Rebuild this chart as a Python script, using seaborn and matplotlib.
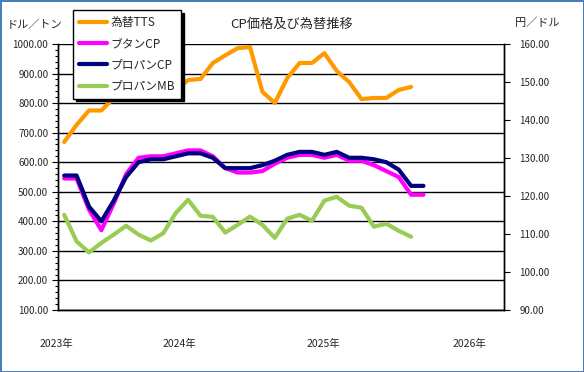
import numpy as np
import pandas as pd
import matplotlib.pyplot as plt
import matplotlib.ticker as mticker
import seaborn as sns

# ---------------------------------------------------------
# Data (monthly, Apr 2023 onwards)
# ---------------------------------------------------------
months = pd.date_range("2023-04-01", periods=36, freq="MS")  # category axis, FY2023-FY2025

tts = [134.2, 138.7, 142.5, 142.5, 145.8, 148.4, 150.3, 150.6, 145.5, 147.8,
       150.5, 150.8, 155.0, 157.0, 158.9, 159.2, 147.4, 144.5, 151.0, 155.0,
       155.0, 157.6, 152.9, 150.0, 145.5, 145.8, 145.8, 147.9, 148.7]
butane_cp = [545, 545, 440, 370, 460, 560, 615, 620, 620, 630,
             640, 640, 620, 580, 565, 565, 570, 595, 615, 625,
             625, 615, 625, 605, 605, 590, 570, 550, 490, 490]
propane_cp = [555, 555, 450, 400, 470, 550, 600, 610, 610, 620,
              630, 630, 615, 580, 580, 580, 590, 605, 625, 635,
              635, 625, 635, 615, 615, 610, 600, 575, 520, 520]
propane_mb = [422, 332, 295, 327, 355, 385, 355, 335, 360, 428,
              473, 419, 415, 362, 388, 416, 388, 344, 409, 422,
              402, 470, 483, 453, 446, 382, 392, 368, 348]

series_names = ["為替TTS", "ブタンCP", "プロパンCP", "プロパンMB"]
colors = ["#FF9900", "#FF00FF", "#000080", "#99CC55"]
year_labels = ["2023年", "2024年", "2025年", "2026年"]


def to_frame(values):
    n = len(values)
    return pd.DataFrame({"pos": np.arange(n), "month": months[:n], "value": values})


# ---------------------------------------------------------
# Plot
# ---------------------------------------------------------
sns.set_theme(style="white")
plt.rcParams["font.family"] = ["Noto Sans CJK JP", "DejaVu Sans"]

fig = plt.figure(figsize=(5.84, 3.72), dpi=100, edgecolor="#4A7EBB", linewidth=2)
ax = fig.add_axes([58 / 584, 1 - 310 / 372, (504 - 58) / 584, (310 - 44) / 372])
ax2 = ax.twinx()

lw = 3.0
sns.lineplot(data=to_frame(butane_cp), x="pos", y="value", color=colors[1], lw=lw, ax=ax)
sns.lineplot(data=to_frame(propane_cp), x="pos", y="value", color=colors[2], lw=lw, ax=ax)
sns.lineplot(data=to_frame(propane_mb), x="pos", y="value", color=colors[3], lw=lw, ax=ax)
sns.lineplot(data=to_frame(tts), x="pos", y="value", color=colors[0], lw=lw, ax=ax2)

# left axis
ax.set_xlim(-0.5, len(months) - 0.5)
ax.set_ylim(100, 1000)
ax.yaxis.set_major_locator(mticker.MultipleLocator(100))
ax.yaxis.set_minor_locator(mticker.MultipleLocator(20))
ax.yaxis.set_major_formatter(mticker.FormatStrFormatter("%.2f"))
ax.set_xticks([])
ax.set_xlabel("")
ax.set_ylabel("")
ax.yaxis.grid(True, color="black", lw=1)
ax.get_ygridlines()[-1].set_visible(False)
ax.tick_params(axis="y", which="major", direction="out", length=4, width=0.8,
               color="black", labelsize=7, pad=3, left=True)
ax.tick_params(axis="y", which="minor", direction="out", length=2, width=0.8,
               color="black", left=True)

# right axis
ax2.set_ylim(90, 160)
ax2.yaxis.set_major_locator(mticker.MultipleLocator(10))
ax2.yaxis.set_major_formatter(mticker.FormatStrFormatter("%.2f"))
ax2.set_ylabel("")
ax2.set_xlabel("")
ax2.tick_params(axis="y", which="major", direction="out", length=4, width=0.8,
                color="black", labelsize=7, pad=7, right=True)

for a in (ax, ax2):
    a.spines["top"].set_visible(False)
    for s in ("left", "right", "bottom"):
        a.spines[s].set_color("black")
        a.spines[s].set_linewidth(1)

# year labels under the axis
year_pos = [-0.6, 9.3, 20.9, 32.7]
for pos, lab in zip(year_pos, year_labels):
    ax.text(pos, -0.128, lab, transform=ax.get_xaxis_transform(),
            ha="center", va="center", fontsize=7.5)

# titles
fig.text(291.5 / 584, 1 - 24 / 372, "CP価格及び為替推移", ha="center", va="center", fontsize=9.5)
fig.text(7 / 584, 1 - 25 / 372, "ドル／トン", ha="left", va="center", fontsize=8)
fig.text(515 / 584, 1 - 23 / 372, "円／ドル", ha="left", va="center", fontsize=8)

# legend
handles = [plt.Line2D([], [], color=c, lw=lw) for c in colors]
leg = ax2.legend(handles, series_names, loc="upper left",
                 bbox_to_anchor=(73 / 584, 1 - 10 / 372), bbox_transform=fig.transFigure,
                 frameon=True, fancybox=False, framealpha=1, edgecolor="black",
                 shadow={"color": "black", "alpha": 1}, fontsize=8.5,
                 handlelength=2.4, handletextpad=0.3, labelspacing=0.7,
                 borderpad=0.5, borderaxespad=0)
leg.get_frame().set_linewidth(1)

fig.savefig("out.png", dpi=100, edgecolor=fig.get_edgecolor())
